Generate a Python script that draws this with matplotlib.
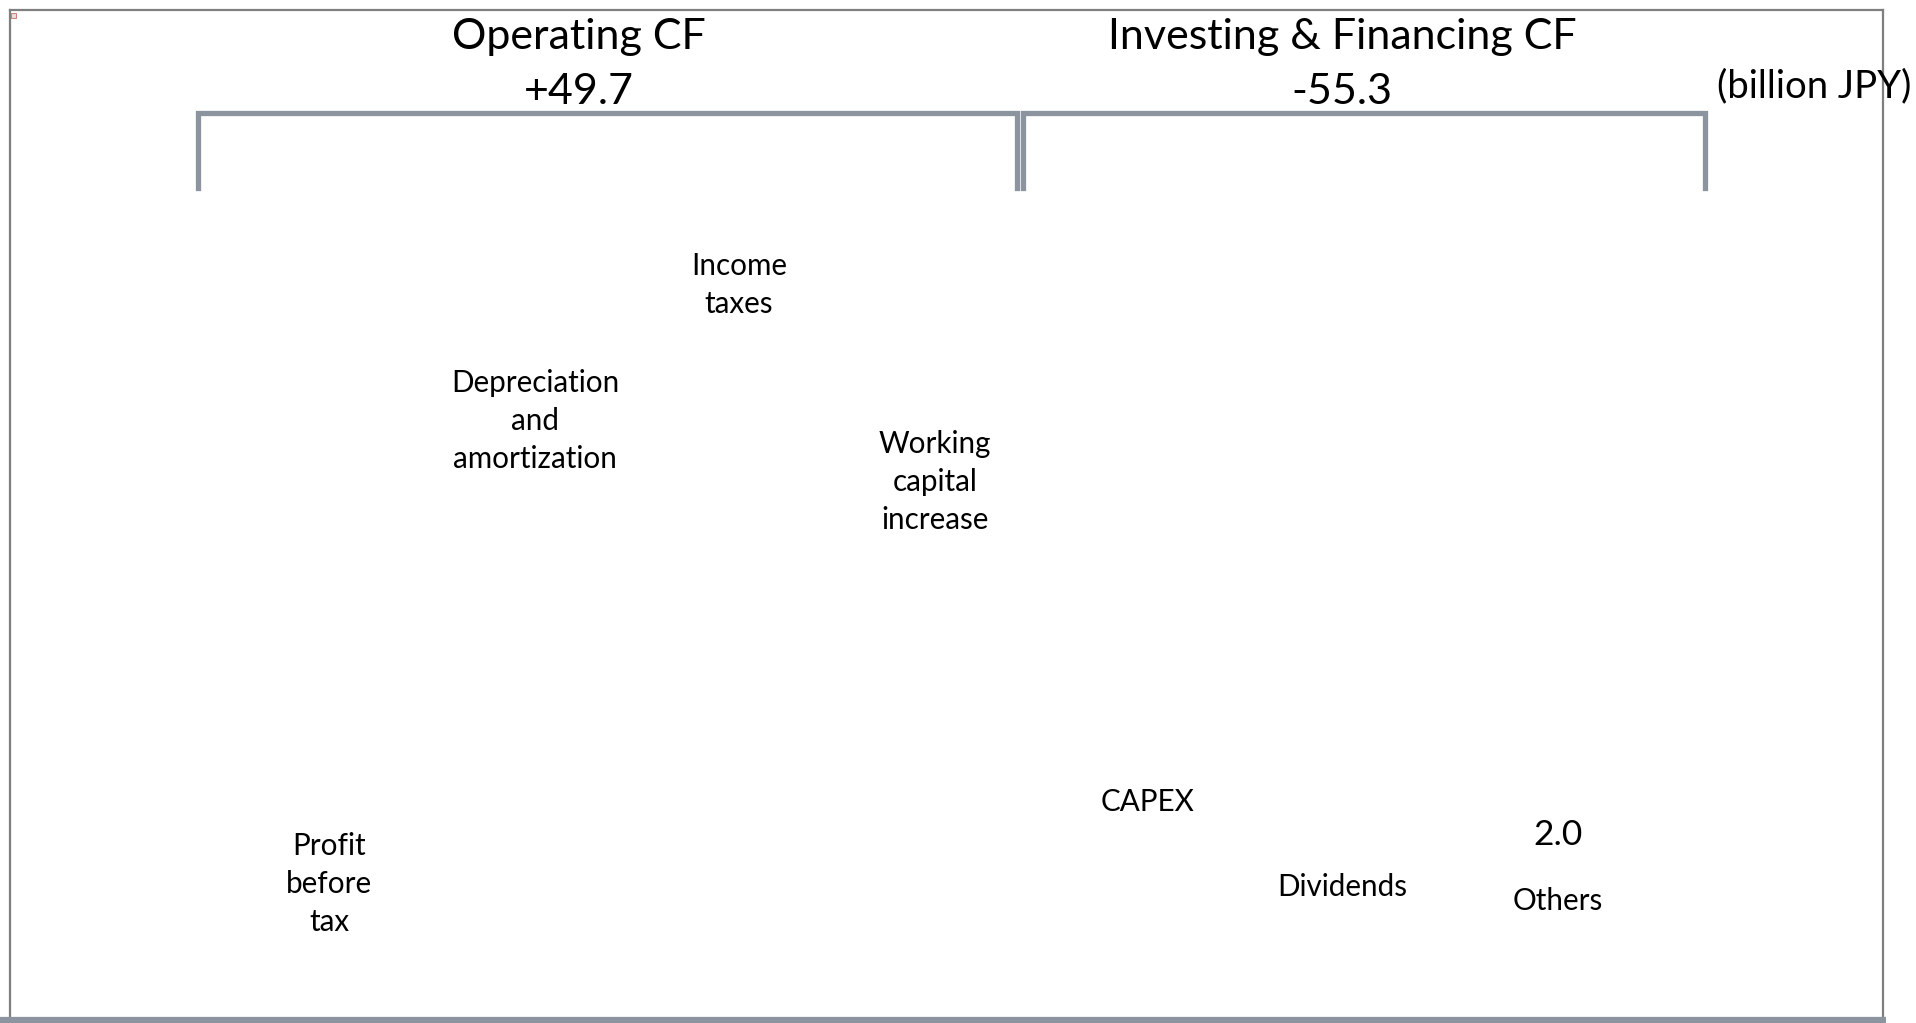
import matplotlib
matplotlib.use("Agg")
import matplotlib.pyplot as plt

# ---- data (billion JPY) ----
group_names = ["Operating CF", "Investing & Financing CF"]
group_totals = [49.7, -55.3]
categories = ["Profit\nbefore\ntax", "Depreciation\nand\namortization", "Income\ntaxes",
              "Working\ncapital\nincrease", "CAPEX", "Dividends", "Others"]
others_value = 2.0
unit_label = "(billion JPY)"

# ---- layout (pixel coords of the 1916x1023 canvas) ----
label_x = [329, 535, 739, 935, 1148, 1342, 1558]
label_y = [884, 421, 285, 482, 802, 887, 901]
group_x = [579, 1342]
bracket_spans = [(198, 1017), (1023, 1705)]

plt.rcParams['font.family'] = ['Lato', 'DejaVu Sans']

fig = plt.figure(figsize=(19.16, 10.23), dpi=100)
ax = fig.add_axes([0, 0, 1, 1])
ax.set_xlim(0, 1916)
ax.set_ylim(1023, 0)
ax.axis('off')

frame_col = "#7f7f7f"
brk_col = "#8c959f"

# outer frame
ax.plot([10, 10], [10, 1023], color=frame_col, lw=1.6)
ax.plot([10, 1883], [10, 10], color=frame_col, lw=1.6)
ax.plot([1883, 1883], [10, 1020], color=frame_col, lw=1.6)
ax.plot([0, 1886], [1020, 1020], color=brk_col, lw=4.5, solid_capstyle='butt')
# broken-image icon
ax.add_patch(plt.Rectangle((11, 13), 5, 5, facecolor="#f3d6d6", edgecolor="#c05050", lw=0.5))

# brackets
for (x0, x1) in bracket_spans:
    ax.plot([x0, x0, x1, x1], [188, 113, 113, 188], color=brk_col, lw=3.8,
            solid_joinstyle='miter')

# group titles
for name, total, gx in zip(group_names, group_totals, group_x):
    ax.text(gx, 37, name, ha='center', va='center', fontsize=31)
    ax.text(gx, 92, f"{total:+.1f}", ha='center', va='center', fontsize=31)

ax.text(1717, 86, unit_label, ha='left', va='center', fontsize=27.5)

# category labels
for lab, x, y in zip(categories, label_x, label_y):
    ax.text(x, y, lab, ha='center', va='center', fontsize=21.3, linespacing=1.45)

ax.text(label_x[-1], 835, f"{others_value:.1f}", ha='center', va='center', fontsize=25.5)

fig.savefig("out.png", dpi=100)
